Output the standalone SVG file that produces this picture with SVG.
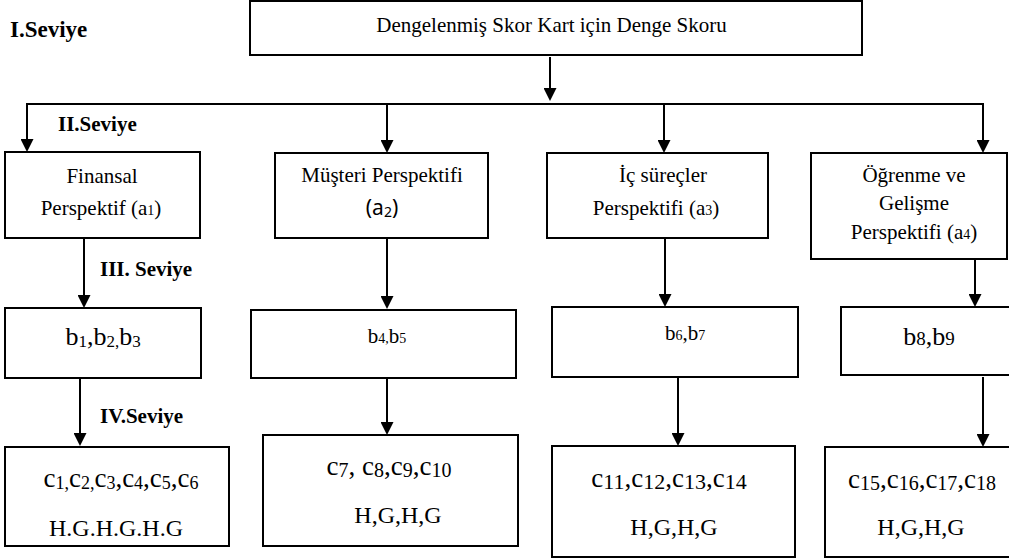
<svg xmlns="http://www.w3.org/2000/svg" width="1009" height="560" viewBox="0 0 1009 560">
  <style>
    .box { fill: #fff; stroke: #000; stroke-width: 2; }
    .t { fill: #000; text-anchor: middle; }
    .lvl { font-weight: bold; fill: #000; }
    .edge { stroke: #000; stroke-width: 2; fill: none; }
    .arr { stroke: #000; stroke-width: 2; fill: none; marker-end: url(#head); }
  </style>
  <defs>
    <marker id="head" viewBox="0 0 13 13" refX="5" refY="6.5" markerWidth="13" markerHeight="13" markerUnits="userSpaceOnUse" orient="auto">
      <path d="M0,0 L13,6.5 L0,13 z" fill="#000"/>
    </marker>
  </defs>
  <rect width="1009" height="560" fill="#fff"/>

  <g font-family="'Liberation Serif', 'DejaVu Serif', serif">
  <!-- level labels -->
  <g id="levels">
    <text class="lvl" x="10" y="37" font-size="23">I.Seviye</text>
    <text class="lvl" x="58" y="131" font-size="21">II.Seviye</text>
    <text class="lvl" x="100" y="276" font-size="21">III. Seviye</text>
    <text class="lvl" x="100" y="423" font-size="21">IV.Seviye</text>
  </g>

  <!-- connectors -->
  <g id="connectors">
    <path class="arr" d="M550,57 V93"/>
    <path class="edge" d="M27,144 V104 H983 V144"/>
    <path class="arr" d="M27,104 V144"/>
    <path class="arr" d="M387,104 V145"/>
    <path class="arr" d="M664,104 V145"/>
    <path class="arr" d="M983,104 V145"/>
    <path class="arr" d="M84,238 V300"/>
    <path class="arr" d="M80,378 V438"/>
    <path class="arr" d="M387,238 V301"/>
    <path class="arr" d="M387,378 V427"/>
    <path class="arr" d="M665,238 V299"/>
    <path class="arr" d="M678,377 V438"/>
    <path class="arr" d="M975,238 V299"/>
    <path class="arr" d="M983,377 V439"/>
  </g>

  <g id="root">
    <rect class="box" x="250" y="1" width="612" height="54"/>
    <text class="t" x="551.5" y="32" font-size="21">Dengelenmiş Skor Kart için Denge Skoru</text>
  </g>

  <g id="a1">
    <rect class="box" x="5" y="152" width="195" height="86"/>
    <text class="t" x="102" y="183" font-size="21">Finansal</text>
    <text class="t" x="101" y="215" font-size="21">Perspektif (a<tspan font-size="14">1</tspan>)</text>
  </g>
  <g id="a2">
    <rect class="box" x="275" y="153" width="213" height="85"/>
    <text class="t" x="382" y="182" font-size="21">Müşteri Perspektifi</text>
    <text class="t" x="382" y="215" font-size="21" font-family="'Noto Sans', 'Liberation Sans', sans-serif">(a<tspan font-size="14" dy="2">2</tspan><tspan dy="-2">)</tspan></text>
  </g>
  <g id="a3">
    <rect class="box" x="547" y="153" width="221" height="85"/>
    <text class="t" x="663" y="182" font-size="21">İç süreçler</text>
    <text class="t" x="656" y="215" font-size="21">Perspektifi (a<tspan font-size="14">3</tspan>)</text>
  </g>
  <g id="a4">
    <rect class="box" x="811" y="153" width="196" height="106"/>
    <text class="t" x="914" y="182" font-size="21">Öğrenme ve</text>
    <text class="t" x="914" y="210" font-size="21">Gelişme</text>
    <text class="t" x="914" y="239" font-size="21">Perspektifi (a<tspan font-size="14">4</tspan>)</text>
  </g>

  <g id="b1">
    <rect class="box" x="5" y="308" width="196" height="70"/>
    <text class="t" x="103" y="345" font-size="26">b<tspan font-size="17" dy="2">1</tspan><tspan dy="-2">,b</tspan><tspan font-size="17" dy="2">2,</tspan><tspan dy="-2">b</tspan><tspan font-size="17" dy="2">3</tspan></text>
  </g>
  <g id="b2">
    <rect class="box" x="251" y="310" width="265" height="68"/>
    <text class="t" x="387" y="343" font-size="21">b<tspan font-size="14">4,</tspan>b<tspan font-size="14">5</tspan></text>
  </g>
  <g id="b3">
    <rect class="box" x="552" y="307" width="246" height="70"/>
    <text class="t" x="685" y="340" font-size="21">b<tspan font-size="14">6</tspan>,b<tspan font-size="14">7</tspan></text>
  </g>
  <g id="b4">
    <rect class="box" x="841" y="307" width="180" height="68"/>
    <text class="t" x="929" y="345" font-size="26">b<tspan font-size="19">8</tspan>,b<tspan font-size="19">9</tspan></text>
  </g>

  <g id="c1">
    <rect class="box" x="5" y="447" width="224" height="99"/>
    <text class="t" x="121" y="487" font-size="27">c<tspan font-size="18" dy="2">1,</tspan><tspan dy="-2">c</tspan><tspan font-size="18" dy="2">2,</tspan><tspan dy="-2">c</tspan><tspan font-size="18" dy="2">3</tspan><tspan dy="-2">,c</tspan><tspan font-size="18" dy="2">4</tspan><tspan dy="-2">,c</tspan><tspan font-size="18" dy="2">5</tspan><tspan dy="-2">,c</tspan><tspan font-size="18" dy="2">6</tspan></text>
    <text class="t" x="116" y="536" font-size="24">H.G.H.G.H.G</text>
  </g>
  <g id="c2">
    <rect class="box" x="263" y="435" width="255" height="111"/>
    <text class="t" x="389" y="475" font-size="27">c<tspan font-size="20" dy="2">7</tspan><tspan dy="-2">, c</tspan><tspan font-size="20" dy="2">8</tspan><tspan dy="-2">,c</tspan><tspan font-size="20" dy="2">9</tspan><tspan dy="-2">,c</tspan><tspan font-size="20" dy="2">10</tspan></text>
    <text class="t" x="398" y="523" font-size="24">H,G,H,G</text>
  </g>
  <g id="c3">
    <rect class="box" x="552" y="446" width="243" height="111"/>
    <text class="t" x="669" y="487" font-size="27">c<tspan font-size="22" dy="2">11</tspan><tspan dy="-2">,c</tspan><tspan font-size="22" dy="2">12</tspan><tspan dy="-2">,c</tspan><tspan font-size="22" dy="2">13</tspan><tspan dy="-2">,c</tspan><tspan font-size="22" dy="2">14</tspan></text>
    <text class="t" x="674" y="535" font-size="24">H,G,H,G</text>
  </g>
  <g id="c4">
    <rect class="box" x="825" y="447" width="200" height="110"/>
    <text class="t" x="922" y="488" font-size="27">c<tspan font-size="20" dy="2">15</tspan><tspan dy="-2">,c</tspan><tspan font-size="20" dy="2">16</tspan><tspan dy="-2">,c</tspan><tspan font-size="20" dy="2">17</tspan><tspan dy="-2">,c</tspan><tspan font-size="20" dy="2">18</tspan></text>
    <text class="t" x="921" y="535" font-size="24">H,G,H,G</text>
  </g>
  </g>
</svg>
